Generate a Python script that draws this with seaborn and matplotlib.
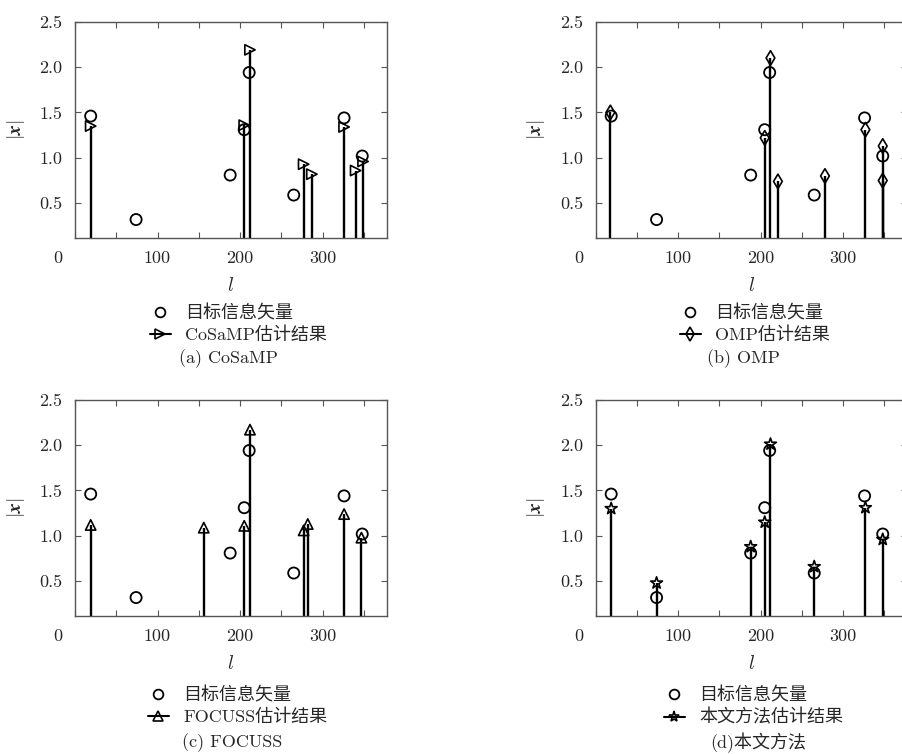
import matplotlib
matplotlib.use('Agg')
import matplotlib.pyplot as plt
import matplotlib.transforms as mtrans
from matplotlib.lines import Line2D
import seaborn as sns

# target vector (circles, same in all four panels)
target_l = [19, 74, 188, 205, 211, 265, 326, 348]
target_x = [1.46, 0.32, 0.81, 1.31, 1.94, 0.59, 1.44, 1.02]

# estimates of each method
cosamp_l = [19, 205, 212, 277, 287, 326, 340, 349]
cosamp_x = [1.35, 1.36, 2.19, 0.93, 0.82, 1.34, 0.86, 0.96]

omp_l = [18, 205, 212, 221, 278, 327, 348, 348]
omp_x = [1.50, 1.22, 2.10, 0.74, 0.80, 1.31, 1.13, 0.75]

focuss_l = [19, 156, 205, 212, 277, 282, 326, 347]
focuss_x = [1.12, 1.09, 1.11, 2.17, 1.06, 1.13, 1.24, 0.98]

ours_l = [19, 74, 188, 205, 212, 265, 327, 348]
ours_x = [1.30, 0.48, 0.88, 1.15, 2.01, 0.66, 1.31, 0.96]

target_name = '目标信息矢量'
est_names = ['CoSaMP估计结果', 'OMP估计结果', 'FOCUSS估计结果', '本文方法估计结果']
captions = ['(a) CoSaMP', '(b) OMP', '(c) FOCUSS', '(d)本文方法']
yticks = [0.5, 1.0, 1.5, 2.0, 2.5]
xticks = [0, 50, 100, 150, 200, 250, 300, 350]
xtick_labels = ['0', '', '100', '', '200', '', '300', '']

sns.set_style('ticks')
plt.rcParams['font.family'] = ['cmr10', 'Noto Sans CJK SC']
plt.rcParams['mathtext.fontset'] = 'cm'
plt.rcParams['axes.formatter.use_mathtext'] = True
plt.rcParams['axes.unicode_minus'] = False

fig = plt.figure(figsize=(9.03, 7.54), dpi=100)

W, H = 903, 754
aw, ah = 312 / W, 216 / H
pos = [(75 / W, 1 - 237.7 / H), (595.5 / W, 1 - 237.7 / H),
       (75 / W, 1 - 615.7 / H), (595.5 / W, 1 - 615.7 / H)]
panels = [(cosamp_l, cosamp_x, '>', 55), (omp_l, omp_x, 'd', 55),
          (focuss_l, focuss_x, '^', 55), (ours_l, ours_x, '*', 80)]
leg_pos = [(150, 304), (680, 304), (148, 686), (664, 686)]
cap_pos = [(228, 359), (743, 359), (232, 743), (758, 743)]

for i, (el, ex, mk, ms) in enumerate(panels):
    ax = fig.add_axes([pos[i][0], pos[i][1], aw, ah])
    ax.vlines(el, 0, ex, color='black', lw=1.7, zorder=2)
    sns.scatterplot(x=target_l, y=target_x, marker='o', s=64, facecolor='none',
                    edgecolor='black', linewidth=1.3, ax=ax, zorder=4)
    sns.scatterplot(x=el, y=ex, marker=mk, s=ms, facecolor='none',
                    edgecolor='black', linewidth=1.2, ax=ax, zorder=5)
    ax.set_xlim(0, 378)
    ax.set_ylim(0.12, 2.5)
    ax.set_xticks(xticks)
    ax.set_xticklabels(xtick_labels)
    ax.set_yticks(yticks)
    ax.set_yticklabels(['%.1f' % v for v in yticks])
    ax.tick_params(direction='in', top=True, right=True, length=4, width=0.8,
                   color='#555555', labelsize=13, pad=9)
    for s in ax.spines.values():
        s.set_color('#555555')
        s.set_linewidth(1.0)
    lab0 = ax.get_xticklabels()[0]
    lab0.set_transform(lab0.get_transform() +
                       mtrans.ScaledTranslation(-0.17, 0, fig.dpi_scale_trans))
    ax.set_xlabel(r'$l$', fontsize=14)
    ax.xaxis.set_label_coords(0.5, -0.18)
    ax.set_ylabel(r'$|\mathbfit{x}|$', fontsize=14)
    ax.yaxis.set_label_coords(-0.155, 0.5)

    handles = [Line2D([], [], ls='none', marker='o', mfc='none', mec='black', ms=7, mew=1.3),
               Line2D([], [], color='black', lw=1.5, marker=mk, mfc='none', mec='black',
                      ms=8 if mk == '*' else 7, mew=1.2)]
    fig.legend(handles, [target_name, est_names[i]], loc='upper left',
               bbox_to_anchor=(leg_pos[i][0] / W, 1 - leg_pos[i][1] / H),
               frameon=False, fontsize=13, borderpad=0, borderaxespad=0,
               handlelength=1.15, handletextpad=0.8, labelspacing=0.3)
    fig.text(cap_pos[i][0] / W, 1 - cap_pos[i][1] / H, captions[i],
             ha='center', va='center', fontsize=13)

fig.savefig('out.png', dpi=100)
